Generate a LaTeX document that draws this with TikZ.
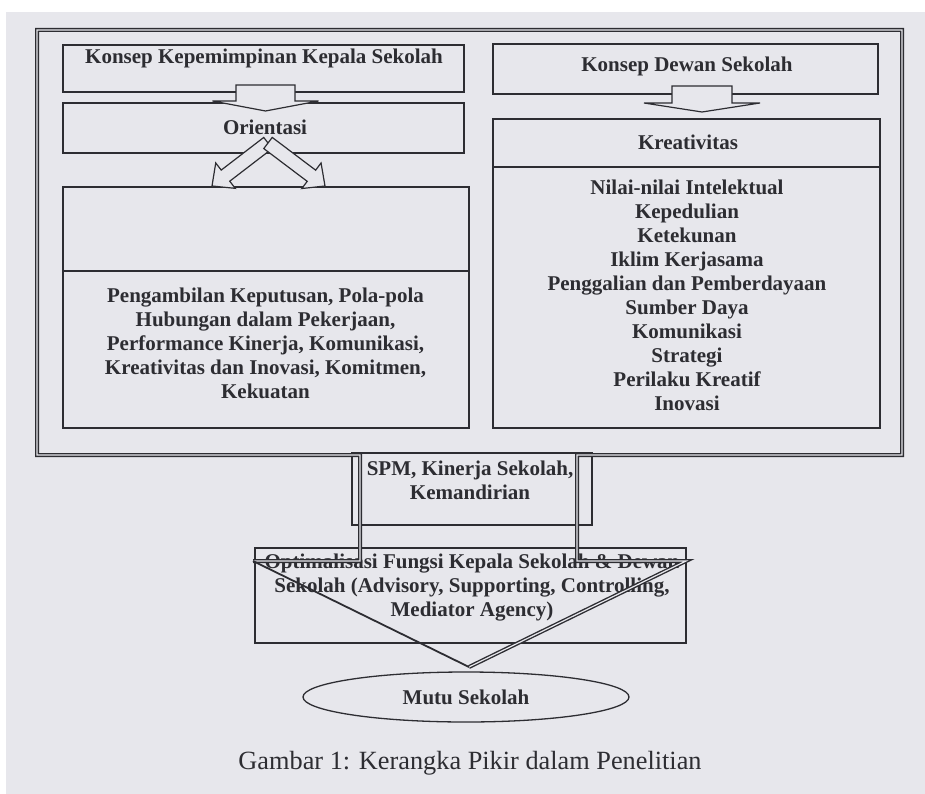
\documentclass[tikz,border=0pt]{standalone}
\usepackage{fontspec}
\setmainfont{Liberation Serif}
\usetikzlibrary{calc,shapes.geometric}
\definecolor{page}{RGB}{231,231,236}
\definecolor{ink}{RGB}{45,45,50}
\tikzset{
  box/.style={draw=ink, line width=1.3pt, inner sep=0pt, outer sep=0pt},
  lbl/.style={text=ink, font=\fontsize{21}{24}\selectfont\bfseries, align=center, inner sep=0pt},
  barrow/.style={draw=ink, line width=1.2pt, fill=page, line join=miter},
  frameline/.style={draw=ink, line width=1.4pt, double=page, double distance=1.2pt, line join=miter},
  tipline/.style={draw=ink, line width=1.8pt},
}
% start, tip, shaft half width, head half width, head length
\newcommand\myblockarr[5]{%
  \coordinate (hb) at ($(#2)!#5!(#1)$);
  \draw[barrow] ($(#1)!#3!90:(#2)$) -- ($(hb)!#3!90:(#2)$) -- ($(hb)!#4!90:(#2)$)
    -- (#2) -- ($(hb)!#4!-90:(#2)$) -- ($(hb)!#3!-90:(#2)$) -- ($(#1)!#3!-90:(#2)$) -- cycle;
}
\begin{document}
\begin{tikzpicture}[x=1pt,y=-1pt]
\useasboundingbox (0,0) rectangle (925,794);
\fill[white] (0,0) rectangle (925,794);
\fill[page] (6,12) rectangle (925,794);

% boxes
\node[box, minimum width=401pt, minimum height=47pt] (kkp) at (263.5,68.5) {};
\node[box, minimum width=401pt, minimum height=50pt] (ori) at (263.5,128) {};
\node[box, minimum width=406pt, minimum height=241pt] (lbig) at (266,307.5) {};
\draw[box] (63,271) -- (469,271);
\node[box, minimum width=385pt, minimum height=50pt] (kds) at (685.5,69) {};
\node[box, minimum width=387pt, minimum height=309pt] (rbig) at (686.5,273.5) {};
\draw[box] (493,167) -- (880,167);
\node[box, minimum width=240pt, minimum height=72pt] (spm) at (472,489) {};
\node[box, minimum width=431pt, minimum height=95pt] (opt) at (470.5,595.5) {};
\node[box, ellipse, minimum width=326pt, minimum height=50pt, lbl] (mutu) at (466,697) {Mutu Sekolah};

% texts
\node[lbl] (t1) at (264,58) {Konsep Kepemimpinan Kepala Sekolah};
\node[lbl] (t2) at (687,66) {Konsep Dewan Sekolah};
\node[lbl] (t3) at (265,127) {Orientasi};
\node[lbl] (t4) at (688,142) {Kreativitas};
\node[lbl] (t5) at (687,295) {Nilai-nilai Intelektual\\Kepedulian\\Ketekunan\\Iklim Kerjasama\\Penggalian dan Pemberdayaan\\Sumber Daya\\Komunikasi\\Strategi\\Perilaku Kreatif\\Inovasi};
\node[lbl] (t6) at (265.5,343) {Pengambilan Keputusan, Pola-pola\\Hubungan dalam Pekerjaan,\\Performance Kinerja, Komunikasi,\\Kreativitas dan Inovasi, Komitmen,\\Kekuatan};
\node[lbl] (t7) at (470,480.5) {SPM, Kinerja Sekolah,\\Kemandirian};
\node[lbl] (t8) at (472,588) {Optimalisasi Fungsi Kepala Sekolah \& Dewan\\Sekolah (Advisory, Supporting, Controlling,\\Mediator Agency)};

% block arrows
\coordinate (a1s) at (265.5,85);  \coordinate (a1t) at (265.5,111);
\coordinate (a2s) at (702,86);    \coordinate (a2t) at (702,112);
\coordinate (a3s) at (268,143);   \coordinate (a3t) at (212,186);
\coordinate (a4t) at (325,186);
\myblockarr{a1s}{a1t}{29.5pt}{53pt}{10pt}
\myblockarr{a2s}{a2t}{30pt}{58pt}{9pt}
\myblockarr{a3s}{a3t}{7pt}{16pt}{17pt}
\myblockarr{a3s}{a4t}{7pt}{16pt}{17pt}

% outer frame turning into the big arrow
\coordinate (f1) at (37,30);   \coordinate (f2) at (902,30);
\coordinate (f3) at (902,455); \coordinate (f4) at (577,455);
\coordinate (f5) at (577,561); \coordinate (f6) at (686,561);
\coordinate (ftip) at (469,667);
\coordinate (f8) at (253,561); \coordinate (f9) at (360,561);
\coordinate (f10) at (360,455); \coordinate (f11) at (37,455);
\draw[frameline] (ftip) -- (f6) -- (f5) -- (f4) -- (f3) -- (f2) -- (f1) -- (f11) -- (f10) -- (f9) -- (f8);
\draw[tipline] (f8) -- (ftip);

% caption
\node[text=ink, font=\fontsize{26.3}{30}\selectfont, inner sep=0pt] (cap) at (470,763) {Gambar 1: Kerangka Pikir dalam Penelitian};
\end{tikzpicture}
\end{document}
